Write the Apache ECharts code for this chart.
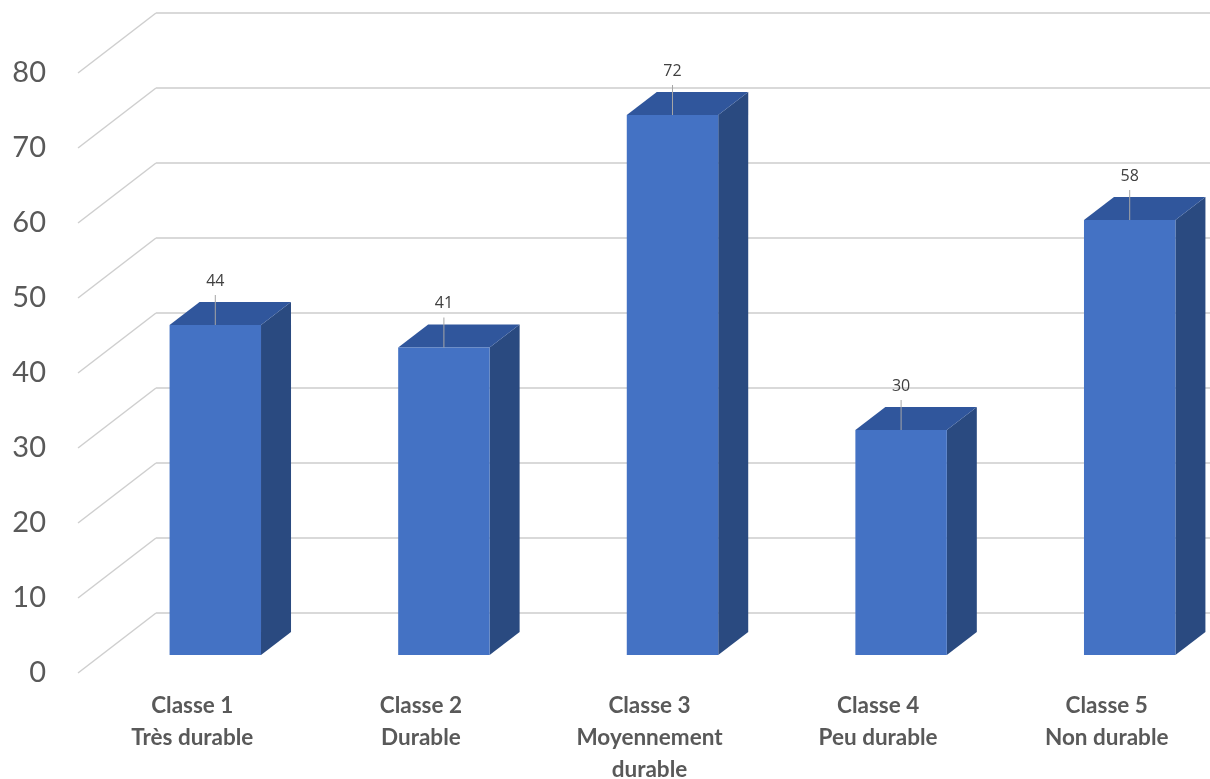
<!DOCTYPE html>
<html>
<head>
<meta charset="utf-8">
<script src="https://cdn.jsdelivr.net/npm/echarts@6/dist/echarts.min.js"></script>
<style>
  html, body { margin: 0; padding: 0; background: #ffffff; }
  #chart { width: 1210px; height: 779px; }
</style>
</head>
<body>
<div id="chart"></div>
<script>
// Durability classes and their counts
const categories = [
  'Classe 1\nTrès durable',
  'Classe 2\nDurable',
  'Classe 3\nMoyennement\ndurable',
  'Classe 4\nPeu durable',
  'Classe 5\nNon durable'
];
const values = [44, 41, 72, 30, 58];
const yTicks = [0, 10, 20, 30, 40, 50, 60, 70, 80];

// Oblique 3D projection offsets (pixels) relative to the front floor plane
const FRONT = { dx: 23, dy: -18 };   // front face of the columns
const DEPTH = { dx: 30, dy: -23 };   // column depth
const WALL  = { dx: 78, dy: -60 };   // back wall
const BAR_RATIO = 0.4;

const COLORS = {
  front: '#4472C4',
  top: '#30569C',
  side: '#2A4A80',
  grid: '#d9d9d9',
  floor: '#cfcfcf',
  leader: '#a6a6a6',
  text: '#595959',
  value: '#404040'
};

const chart = echarts.init(document.getElementById('chart'), null, { renderer: 'canvas' });

chart.setOption({
  animation: false,
  backgroundColor: '#ffffff',
  grid: { left: 78, top: 73, width: 1143, height: 600, outerBoundsMode: 'none', containLabel: false },
  xAxis: {
    type: 'category',
    data: categories,
    axisLine: { show: false },
    axisTick: { show: false },
    axisLabel: {
      interval: 0,
      margin: 17,
      color: COLORS.text,
      fontFamily: 'Lato',
      fontWeight: 'bold',
      fontSize: 22.5,
      lineHeight: 32,
      align: 'center'
    }
  },
  yAxis: {
    type: 'value',
    min: 0,
    max: 80,
    interval: 10,
    axisLine: { show: false },
    axisTick: { show: false },
    splitLine: { show: false },
    axisLabel: {
      margin: 32,
      color: COLORS.text,
      fontFamily: 'Lato',
      fontSize: 29
    }
  },
  series: [
    {
      // Back wall gridlines with their floor-side diagonals
      type: 'custom',
      silent: true,
      z: 1,
      data: yTicks.map(v => [0, v]),
      renderItem: function (params, api) {
        const cs = params.coordSys;
        const p = api.coord([0, api.value(1)]);
        const x0 = cs.x;
        const y0 = p[1];
        return {
          type: 'group',
          children: [
            {
              type: 'line',
              shape: { x1: x0, y1: y0, x2: x0 + WALL.dx, y2: y0 + WALL.dy },
              style: { stroke: COLORS.floor, lineWidth: 1.5 }
            },
            {
              type: 'line',
              shape: { x1: x0 + WALL.dx, y1: y0 + WALL.dy, x2: cs.x + cs.width + WALL.dx, y2: y0 + WALL.dy },
              style: { stroke: COLORS.grid, lineWidth: 2 }
            }
          ]
        };
      }
    },
    {
      // 3D columns with value labels
      type: 'custom',
      z: 2,
      data: values.map((v, i) => [i, v]),
      renderItem: function (params, api) {
        const ci = api.value(0);
        const v = api.value(1);
        const base = api.coord([ci, 0]);
        const top = api.coord([ci, v]);
        const bw = api.size([1, 0])[0] * BAR_RATIO;
        const fx = base[0] + FRONT.dx - bw / 2;
        const by = base[1] + FRONT.dy;
        const ty = top[1] + FRONT.dy;
        const cx = fx + bw / 2;
        return {
          type: 'group',
          children: [
            {
              type: 'polygon',
              shape: { points: [[fx + bw, ty], [fx + bw + DEPTH.dx, ty + DEPTH.dy], [fx + bw + DEPTH.dx, by + DEPTH.dy], [fx + bw, by]] },
              style: { fill: COLORS.side }
            },
            {
              type: 'polygon',
              shape: { points: [[fx, ty], [fx + DEPTH.dx, ty + DEPTH.dy], [fx + bw + DEPTH.dx, ty + DEPTH.dy], [fx + bw, ty]] },
              style: { fill: COLORS.top }
            },
            {
              type: 'rect',
              shape: { x: fx, y: ty, width: bw, height: by - ty },
              style: { fill: COLORS.front }
            },
            {
              type: 'line',
              shape: { x1: cx, y1: ty, x2: cx, y2: ty - 30 },
              style: { stroke: COLORS.leader, lineWidth: 1 }
            },
            {
              type: 'text',
              x: cx,
              y: ty - 44,
              style: {
                text: String(v),
                fill: COLORS.value,
                font: '16px "Open Sans"',
                align: 'center',
                verticalAlign: 'middle'
              }
            }
          ]
        };
      }
    }
  ]
});
</script>
</body>
</html>
